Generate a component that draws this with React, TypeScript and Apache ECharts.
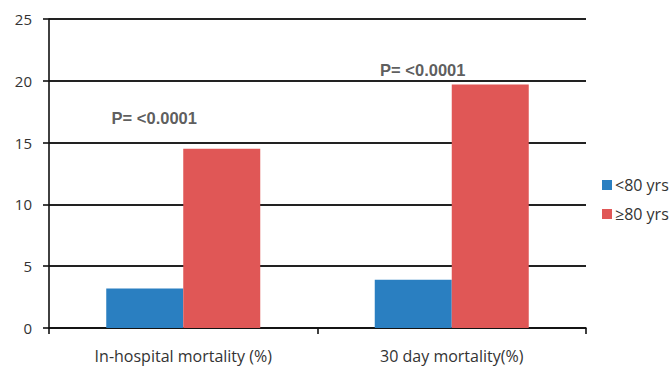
import React, { useEffect, useRef } from "react";
import * as echarts from "echarts";

const categories = ["In-hospital mortality (%)", "30 day mortality(%)"];
const under80 = [3.2, 3.9];
const over80 = [14.5, 19.7];
const seriesNames = ["<80 yrs", "≥80 yrs"];
const pLabels = ["P= <0.0001", "P= <0.0001"];
const pLabelY = [17.0, 20.9];
const yTicks = { min: 0, max: 25, interval: 5 };

export default function App() {
  const ref = useRef<HTMLDivElement>(null);
  useEffect(() => {
    if (!ref.current) return;
    const chart = echarts.init(ref.current, null, { renderer: "svg" });
    const font = "'Open Sans', 'Noto Sans', sans-serif";
    chart.setOption({
      animation: false,
      backgroundColor: "#ffffff",
      textStyle: { fontFamily: font },
      grid: { left: 49, right: 86, top: 19, bottom: 40, containLabel: false },
      legend: {
        orient: "vertical",
        left: 597,
        top: 172,
        itemWidth: 10,
        itemHeight: 10,
        itemGap: 13,
        icon: "rect",
        data: seriesNames,
        textStyle: { fontFamily: font, fontSize: 16, color: "#333", lineHeight: 16, padding: [0, 0, 0, -2] },
      },
      xAxis: {
        type: "category",
        data: categories,
        axisLine: { lineStyle: { color: "#111", width: 1.6 } },
        axisTick: { show: true, length: 6, lineStyle: { color: "#111", width: 1.6 } },
        axisLabel: { fontFamily: font, fontSize: 16, color: "#333", margin: 20 },
      },
      yAxis: {
        type: "value",
        min: yTicks.min,
        max: yTicks.max,
        interval: yTicks.interval,
        axisLine: { show: true, lineStyle: { color: "#111", width: 1.6 } },
        axisTick: { show: true, length: 6, lineStyle: { color: "#111", width: 1.6 } },
        axisLabel: { fontFamily: font, fontSize: 15, color: "#333", margin: 17 },
        splitLine: { show: true, lineStyle: { color: "#222", width: 1.8 } },
      },
      series: [
        {
          name: seriesNames[0],
          type: "bar",
          data: under80,
          barWidth: 77,
          barGap: "0%",
          itemStyle: { color: "#2a7fc1" },
        },
        {
          name: seriesNames[1],
          type: "bar",
          data: over80,
          barWidth: 77,
          barGap: "0%",
          itemStyle: { color: "#e05756" },
        },
        {
          name: "p",
          type: "scatter",
          silent: true,
          symbolSize: 0,
          data: pLabelY.map((v, i) => ({ value: [i, v], label: { formatter: pLabels[i] } })),
          label: {
            show: true,
            position: "inside",
            offset: [-29, 0],
            fontFamily: "'Liberation Sans', Arial, sans-serif",
            fontWeight: "bold",
            fontSize: 16.5,
            color: "#333",
          },
        },
      ],
    });
    return () => chart.dispose();
  }, []);
  return <div ref={ref} style={{ width: 672, height: 368, position: "absolute", left: 0, top: 0 }} />;
}
